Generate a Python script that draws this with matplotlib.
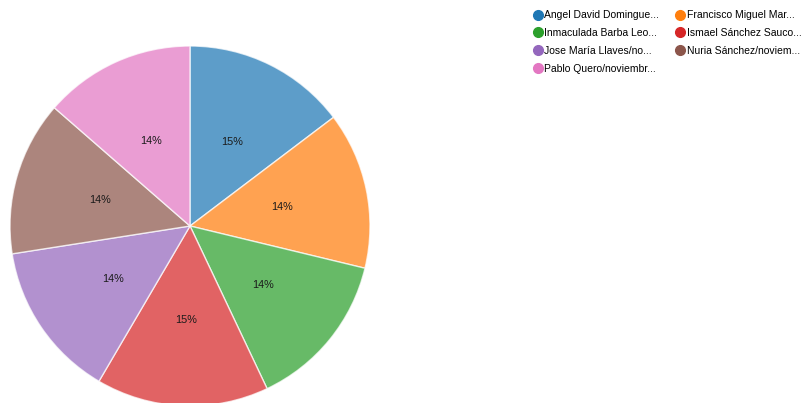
import matplotlib
matplotlib.use("Agg")
import matplotlib.pyplot as plt
from matplotlib.lines import Line2D

plt.rcParams['font.family'] = ['Liberation Sans', 'DejaVu Sans']

labels = ["Angel David Domingue...", "Francisco Miguel Mar...", "Inmaculada Barba Leo...",
          "Ismael Sánchez Sauco...", "Jose María Llaves/no...", "Nuria Sánchez/noviem...",
          "Pablo Quero/noviembr..."]
values = [14.7, 14.1, 14.2, 15.5, 14.1, 13.9, 13.6]
colors = ["#1f77b4", "#ff7f0e", "#2ca02c", "#d62728", "#9467bd", "#8c564b", "#e377c2"]

W, H = 811, 403
fig = plt.figure(figsize=(W/100, H/100), dpi=100)
cx, cy, r = 190, 226, 180
ax = fig.add_axes([(cx - r)/W, (H - cy - r)/H, 2*r/W, 2*r/H])
ax.set_aspect('equal'); ax.axis('off')

wedges, texts, autotexts = ax.pie(values, colors=colors, startangle=90, counterclock=False,
        radius=1, autopct=lambda p: f"{p:.0f}%", pctdistance=0.52,
        wedgeprops=dict(edgecolor='white', linewidth=1.0, alpha=0.72),
        textprops=dict(fontsize=7.8, color='#1a1a1a'))
ax.set_xlim(-1, 1); ax.set_ylim(-1, 1)

order = [0, 2, 4, 6, 1, 3, 5]
handles = [Line2D([], [], marker='o', linestyle='none', markersize=7,
                  markerfacecolor=colors[i], markeredgecolor=colors[i]) for i in order]
leg = fig.legend(handles, [labels[i] for i in order], ncol=2, loc='upper left',
                 bbox_to_anchor=(525/W, 1 - 3/H), frameon=False, fontsize=7.5,
                 handletextpad=0.15, columnspacing=1.5, labelspacing=0.75, handlelength=1.0,
                 borderpad=0.2)
fig.savefig("out.png", dpi=100)
